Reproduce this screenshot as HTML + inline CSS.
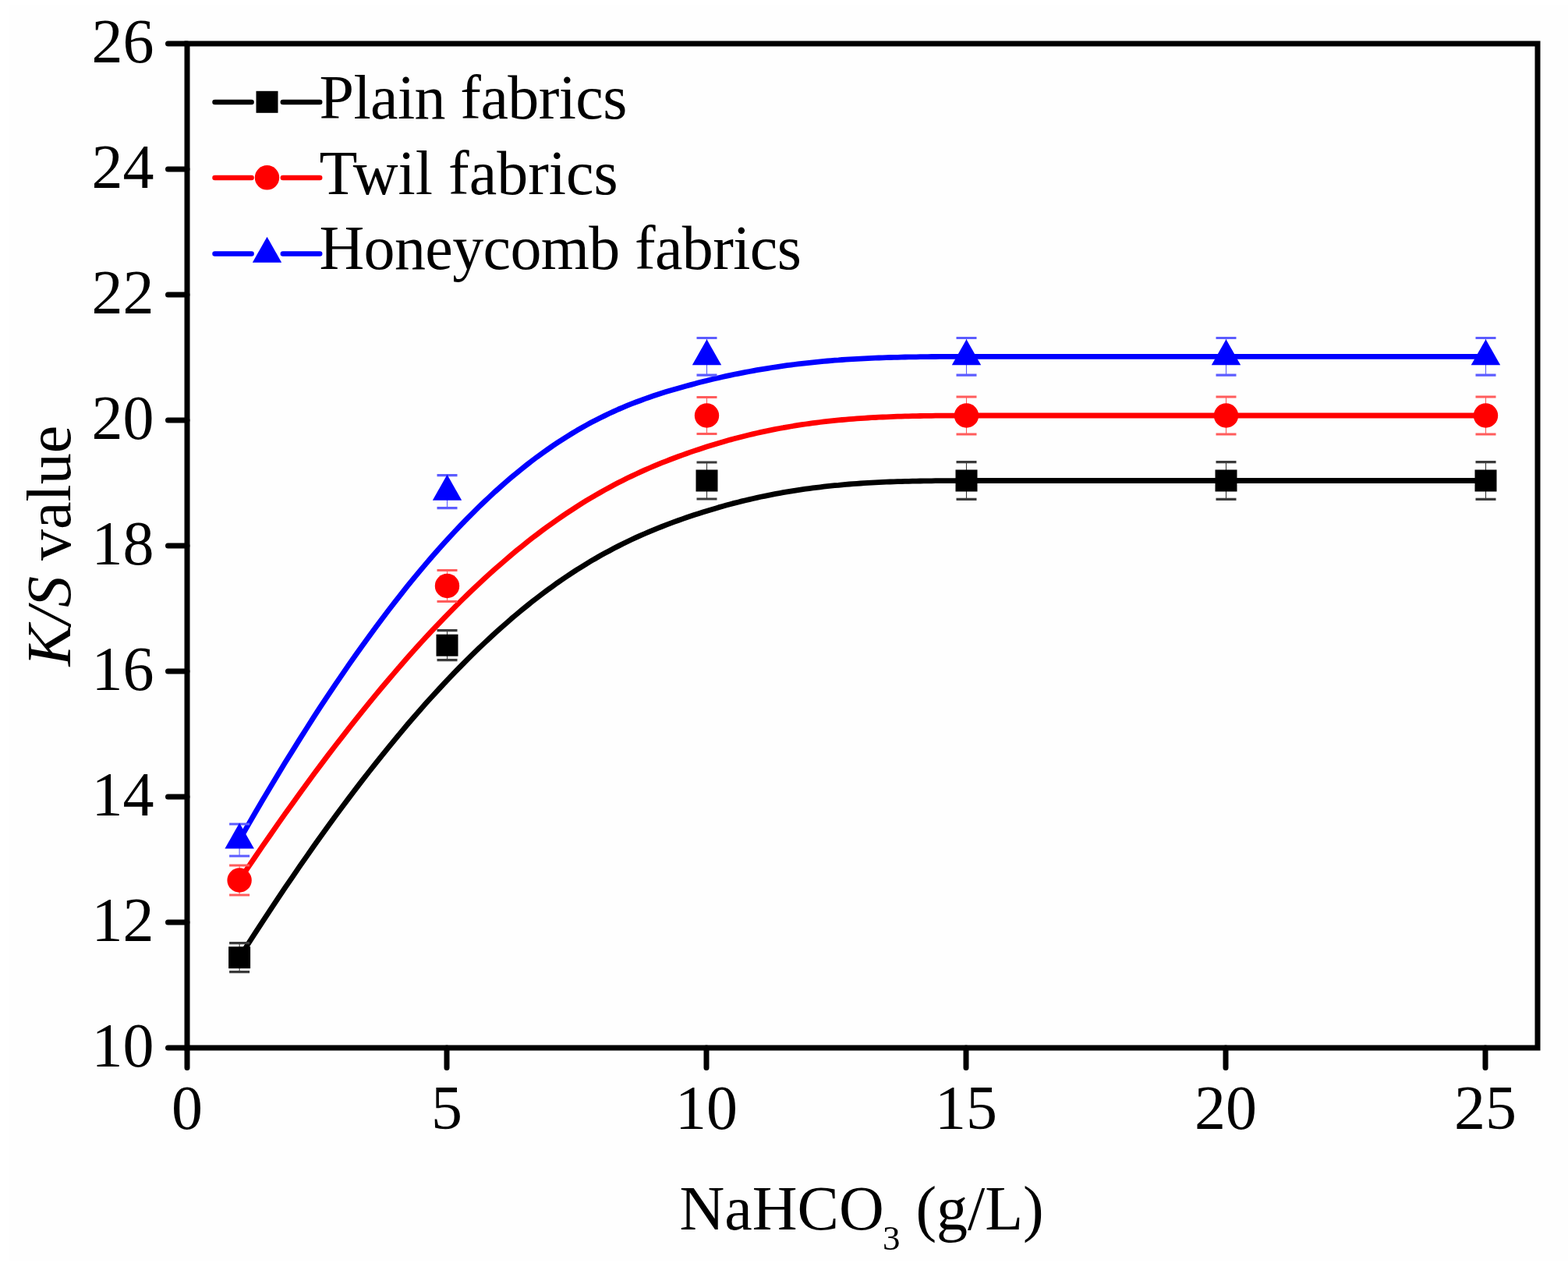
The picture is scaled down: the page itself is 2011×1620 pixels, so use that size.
<!DOCTYPE html>
<html><head><meta charset="utf-8"><title>K/S value vs NaHCO3</title>
<style>
html,body{margin:0;padding:0;background:#fefefe;}
svg{display:block;}
text{font-family:"Liberation Serif","Times New Roman",serif;font-size:80px;fill:#000;}
</style></head><body>
<svg width="2011" height="1620" viewBox="0 0 2011 1620">
<rect x="0" y="0" width="2011" height="1620" fill="#fefefe"/>
<rect x="0" y="0" width="12" height="1620" fill="#ffffff"/>
<rect x="0" y="0" width="2011" height="6" fill="#ffffff"/>
<rect x="0" y="1618" width="2011" height="2" fill="#ffffff"/>
<rect x="240.0" y="56" width="1732.0" height="1288" fill="none" stroke="#000" stroke-width="7"/>
<path d="M215.5,1344.0 H240.0 M215.5,1183.0 H240.0 M215.5,1022.0 H240.0 M215.5,861.0 H240.0 M215.5,700.0 H240.0 M215.5,539.0 H240.0 M215.5,378.0 H240.0 M215.5,217.0 H240.0 M215.5,56.0 H240.0 M240.0,1344 V1369.5 M573.0,1344 V1369.5 M906.0,1344 V1369.5 M1239.0,1344 V1369.5 M1572.0,1344 V1369.5 M1905.0,1344 V1369.5" stroke="#000" stroke-width="7" stroke-linecap="round" fill="none"/>
<text x="197.5" y="1367.6" text-anchor="end">10</text><text x="197.5" y="1206.6" text-anchor="end">12</text><text x="197.5" y="1045.6" text-anchor="end">14</text><text x="197.5" y="884.6" text-anchor="end">16</text><text x="197.5" y="723.6" text-anchor="end">18</text><text x="197.5" y="562.6" text-anchor="end">20</text><text x="197.5" y="401.6" text-anchor="end">22</text><text x="197.5" y="240.6" text-anchor="end">24</text><text x="197.5" y="79.6" text-anchor="end">26</text><text x="240.0" y="1448" text-anchor="middle">0</text><text x="573.0" y="1448" text-anchor="middle">5</text><text x="906.0" y="1448" text-anchor="middle">10</text><text x="1239.0" y="1448" text-anchor="middle">15</text><text x="1572.0" y="1448" text-anchor="middle">20</text><text x="1905.0" y="1448" text-anchor="middle">25</text>
<text x="871.5" y="1576.5">NaHCO<tspan font-size="45" dx="-1.8" dy="26">3</tspan><tspan dy="-26"> (g/L)</tspan></text>
<text transform="translate(89.6,854.5) rotate(-90)" x="0" y="0"><tspan font-style="italic">K/S</tspan> value</text>
<path d="M307.1,1228.2 L317.1,1212.5 L327.0,1197.2 L336.8,1182.1 L346.5,1167.4 L356.1,1152.9 L365.6,1138.7 L375.1,1124.8 L384.4,1111.2 L393.7,1097.9 L402.8,1084.8 L411.9,1072.0 L420.9,1059.5 L429.8,1047.3 L438.7,1035.3 L447.4,1023.6 L456.1,1012.1 L464.7,1000.9 L473.2,990.0 L481.6,979.3 L490.0,968.8 L498.3,958.6 L506.5,948.6 L514.6,938.8 L522.6,929.3 L530.6,920.0 L538.5,911.0 L546.3,902.1 L554.1,893.5 L561.8,885.1 L569.4,876.9 L577.0,868.9 L584.4,861.1 L591.9,853.5 L599.2,846.1 L606.5,838.9 L613.7,831.9 L620.9,825.1 L628.0,818.5 L635.0,812.0 L642.0,805.7 L648.9,799.7 L655.7,793.7 L662.5,788.0 L669.2,782.4 L675.9,777.0 L682.5,771.7 L689.1,766.6 L695.6,761.6 L702.1,756.8 L708.5,752.2 L714.8,747.6 L721.1,743.3 L727.4,739.0 L733.6,734.9 L739.7,730.9 L745.9,727.1 L751.9,723.3 L757.9,719.7 L763.9,716.2 L769.8,712.8 L775.7,709.6 L781.6,706.4 L787.4,703.3 L793.1,700.4 L798.8,697.5 L804.5,694.7 L810.2,692.0 L815.8,689.4 L821.4,686.9 L826.9,684.5 L832.4,682.1 L837.9,679.8 L843.3,677.6 L848.7,675.5 L854.1,673.4 L859.4,671.4 L864.7,669.4 L870.0,667.5 L875.3,665.6 L880.5,663.8 L885.7,662.1 L890.9,660.3 L896.0,658.7 L901.2,657.0 L906.3,655.4 L911.3,653.9 L916.4,652.4 L921.4,650.9 L926.5,649.5 L931.5,648.1 L936.4,646.7 L941.4,645.4 L946.3,644.2 L951.3,642.9 L956.2,641.7 L961.1,640.6 L965.9,639.5 L970.8,638.4 L975.7,637.3 L980.5,636.3 L985.3,635.3 L990.1,634.4 L994.9,633.4 L999.7,632.6 L1004.5,631.7 L1009.2,630.9 L1014.0,630.1 L1018.8,629.3 L1023.5,628.6 L1028.2,627.9 L1033.0,627.2 L1037.7,626.6 L1042.4,625.9 L1047.1,625.3 L1051.8,624.8 L1056.5,624.2 L1061.2,623.7 L1065.9,623.2 L1070.6,622.7 L1075.4,622.3 L1080.1,621.8 L1084.8,621.4 L1089.5,621.0 L1094.2,620.7 L1098.9,620.3 L1103.6,620.0 L1108.3,619.7 L1113.0,619.4 L1117.8,619.1 L1122.5,618.9 L1127.2,618.7 L1132.0,618.4 L1136.8,618.2 L1141.5,618.0 L1146.3,617.9 L1151.1,617.7 L1155.9,617.6 L1160.7,617.4 L1165.5,617.3 L1170.3,617.2 L1175.2,617.1 L1180.1,617.0 L1184.9,616.9 L1189.8,616.8 L1194.7,616.8 L1199.7,616.7 L1204.6,616.7 L1209.6,616.6 L1214.5,616.6 L1219.5,616.6 L1224.6,616.6 L1229.6,616.5 L1234.7,616.5 L1239.7,616.5 L1244.8,616.5 L1250.0,616.5 L1255.1,616.5 L1260.3,616.5 L1265.5,616.5 L1270.7,616.5 L1276.0,616.5 L1281.3,616.5 L1286.6,616.5 L1291.9,616.5 L1297.3,616.5 L1302.7,616.5 L1308.2,616.5 L1313.7,616.5 L1319.2,616.5 L1324.8,616.5 L1330.4,616.5 L1336.1,616.5 L1341.8,616.5 L1347.6,616.5 L1353.4,616.5 L1359.2,616.5 L1365.2,616.5 L1371.1,616.5 L1377.2,616.5 L1383.3,616.5 L1389.4,616.5 L1395.6,616.5 L1401.9,616.5 L1408.2,616.5 L1414.6,616.5 L1421.1,616.5 L1427.7,616.5 L1434.3,616.5 L1441.0,616.5 L1447.7,616.5 L1454.6,616.5 L1461.5,616.5 L1468.5,616.5 L1475.6,616.5 L1482.7,616.5 L1490.0,616.5 L1497.3,616.5 L1504.8,616.5 L1512.3,616.5 L1519.9,616.5 L1527.6,616.5 L1535.4,616.5 L1543.3,616.5 L1551.3,616.5 L1559.3,616.5 L1567.5,616.5 L1575.8,616.5 L1584.2,616.5 L1592.7,616.5 L1601.3,616.5 L1610.1,616.5 L1618.9,616.5 L1627.8,616.5 L1636.9,616.5 L1646.1,616.5 L1655.4,616.5 L1664.8,616.5 L1674.3,616.5 L1684.0,616.5 L1693.8,616.5 L1703.7,616.5 L1713.7,616.5 L1723.9,616.5 L1734.2,616.5 L1744.6,616.5 L1755.2,616.5 L1765.9,616.5 L1776.7,616.5 L1787.7,616.5 L1798.8,616.5 L1810.1,616.5 L1821.5,616.5 L1833.0,616.5 L1844.7,616.5 L1856.6,616.5 L1868.6,616.5 L1880.7,616.5 L1893.0,616.5 L1905.5,616.5" fill="none" stroke="#000000" stroke-width="6.8" stroke-linejoin="round"/><path d="M307.1,1129.0 L317.1,1114.1 L327.0,1099.5 L336.8,1085.2 L346.5,1071.2 L356.1,1057.4 L365.6,1043.9 L375.1,1030.7 L384.4,1017.7 L393.7,1005.0 L402.8,992.6 L411.9,980.4 L420.9,968.4 L429.8,956.7 L438.7,945.3 L447.4,934.1 L456.1,923.1 L464.7,912.3 L473.2,901.8 L481.6,891.6 L490.0,881.5 L498.3,871.7 L506.5,862.1 L514.6,852.7 L522.6,843.5 L530.6,834.6 L538.5,825.8 L546.3,817.3 L554.1,808.9 L561.8,800.8 L569.4,792.9 L577.0,785.1 L584.4,777.6 L591.9,770.2 L599.2,763.0 L606.5,756.0 L613.7,749.2 L620.9,742.6 L628.0,736.1 L635.0,729.8 L642.0,723.7 L648.9,717.7 L655.7,711.9 L662.5,706.2 L669.2,700.8 L675.9,695.4 L682.5,690.2 L689.1,685.2 L695.6,680.3 L702.1,675.5 L708.5,670.9 L714.8,666.4 L721.1,662.1 L727.4,657.9 L733.6,653.8 L739.7,649.8 L745.9,645.9 L751.9,642.2 L757.9,638.6 L763.9,635.1 L769.8,631.7 L775.7,628.4 L781.6,625.2 L787.4,622.1 L793.1,619.1 L798.8,616.2 L804.5,613.3 L810.2,610.6 L815.8,608.0 L821.4,605.4 L826.9,602.9 L832.4,600.5 L837.9,598.2 L843.3,595.9 L848.7,593.7 L854.1,591.6 L859.4,589.5 L864.7,587.5 L870.0,585.5 L875.3,583.6 L880.5,581.7 L885.7,579.9 L890.9,578.1 L896.0,576.4 L901.2,574.7 L906.3,573.1 L911.3,571.5 L916.4,569.9 L921.4,568.4 L926.5,566.9 L931.5,565.5 L936.4,564.1 L941.4,562.8 L946.3,561.5 L951.3,560.2 L956.2,559.0 L961.1,557.8 L965.9,556.6 L970.8,555.5 L975.7,554.4 L980.5,553.4 L985.3,552.4 L990.1,551.4 L994.9,550.4 L999.7,549.5 L1004.5,548.7 L1009.2,547.8 L1014.0,547.0 L1018.8,546.2 L1023.5,545.4 L1028.2,544.7 L1033.0,544.0 L1037.7,543.3 L1042.4,542.7 L1047.1,542.1 L1051.8,541.5 L1056.5,540.9 L1061.2,540.4 L1065.9,539.9 L1070.6,539.4 L1075.4,538.9 L1080.1,538.5 L1084.8,538.1 L1089.5,537.7 L1094.2,537.3 L1098.9,536.9 L1103.6,536.6 L1108.3,536.3 L1113.0,536.0 L1117.8,535.7 L1122.5,535.5 L1127.2,535.2 L1132.0,535.0 L1136.8,534.8 L1141.5,534.6 L1146.3,534.4 L1151.1,534.2 L1155.9,534.1 L1160.7,533.9 L1165.5,533.8 L1170.3,533.7 L1175.2,533.6 L1180.1,533.5 L1184.9,533.4 L1189.8,533.4 L1194.7,533.3 L1199.7,533.2 L1204.6,533.2 L1209.6,533.1 L1214.5,533.1 L1219.5,533.1 L1224.6,533.1 L1229.6,533.0 L1234.7,533.0 L1239.7,533.0 L1244.8,533.0 L1250.0,533.0 L1255.1,533.0 L1260.3,533.0 L1265.5,533.0 L1270.7,533.0 L1276.0,533.0 L1281.3,533.0 L1286.6,533.0 L1291.9,533.0 L1297.3,533.0 L1302.7,533.0 L1308.2,533.0 L1313.7,533.0 L1319.2,533.0 L1324.8,533.0 L1330.4,533.0 L1336.1,533.0 L1341.8,533.0 L1347.6,533.0 L1353.4,533.0 L1359.2,533.0 L1365.2,533.0 L1371.1,533.0 L1377.2,533.0 L1383.3,533.0 L1389.4,533.0 L1395.6,533.0 L1401.9,533.0 L1408.2,533.0 L1414.6,533.0 L1421.1,533.0 L1427.7,533.0 L1434.3,533.0 L1441.0,533.0 L1447.7,533.0 L1454.6,533.0 L1461.5,533.0 L1468.5,533.0 L1475.6,533.0 L1482.7,533.0 L1490.0,533.0 L1497.3,533.0 L1504.8,533.0 L1512.3,533.0 L1519.9,533.0 L1527.6,533.0 L1535.4,533.0 L1543.3,533.0 L1551.3,533.0 L1559.3,533.0 L1567.5,533.0 L1575.8,533.0 L1584.2,533.0 L1592.7,533.0 L1601.3,533.0 L1610.1,533.0 L1618.9,533.0 L1627.8,533.0 L1636.9,533.0 L1646.1,533.0 L1655.4,533.0 L1664.8,533.0 L1674.3,533.0 L1684.0,533.0 L1693.8,533.0 L1703.7,533.0 L1713.7,533.0 L1723.9,533.0 L1734.2,533.0 L1744.6,533.0 L1755.2,533.0 L1765.9,533.0 L1776.7,533.0 L1787.7,533.0 L1798.8,533.0 L1810.1,533.0 L1821.5,533.0 L1833.0,533.0 L1844.7,533.0 L1856.6,533.0 L1868.6,533.0 L1880.7,533.0 L1893.0,533.0 L1905.5,533.0" fill="none" stroke="#ff0000" stroke-width="6.8" stroke-linejoin="round"/><path d="M307.1,1077.5 L317.1,1060.1 L327.0,1043.0 L336.8,1026.3 L346.5,1010.0 L356.1,994.0 L365.6,978.3 L375.1,963.1 L384.4,948.1 L393.7,933.5 L402.8,919.2 L411.9,905.2 L420.9,891.6 L429.8,878.3 L438.7,865.3 L447.4,852.6 L456.1,840.2 L464.7,828.2 L473.2,816.4 L481.6,804.9 L490.0,793.7 L498.3,782.8 L506.5,772.2 L514.6,761.8 L522.6,751.7 L530.6,741.9 L538.5,732.4 L546.3,723.1 L554.1,714.1 L561.8,705.3 L569.4,696.8 L577.0,688.5 L584.4,680.5 L591.9,672.7 L599.2,665.1 L606.5,657.8 L613.7,650.7 L620.9,643.8 L628.0,637.1 L635.0,630.6 L642.0,624.4 L648.9,618.3 L655.7,612.4 L662.5,606.8 L669.2,601.3 L675.9,596.0 L682.5,590.9 L689.1,585.9 L695.6,581.2 L702.1,576.6 L708.5,572.1 L714.8,567.9 L721.1,563.8 L727.4,559.8 L733.6,556.0 L739.7,552.3 L745.9,548.8 L751.9,545.4 L757.9,542.1 L763.9,539.0 L769.8,536.0 L775.7,533.1 L781.6,530.3 L787.4,527.6 L793.1,525.0 L798.8,522.6 L804.5,520.2 L810.2,517.9 L815.8,515.8 L821.4,513.7 L826.9,511.6 L832.4,509.7 L837.9,507.8 L843.3,506.0 L848.7,504.3 L854.1,502.6 L859.4,501.0 L864.7,499.4 L870.0,497.9 L875.3,496.4 L880.5,495.0 L885.7,493.6 L890.9,492.2 L896.0,490.8 L901.2,489.5 L906.3,488.3 L911.3,487.0 L916.4,485.8 L921.4,484.7 L926.5,483.5 L931.5,482.4 L936.4,481.4 L941.4,480.3 L946.3,479.3 L951.3,478.3 L956.2,477.4 L961.1,476.5 L965.9,475.6 L970.8,474.7 L975.7,473.9 L980.5,473.1 L985.3,472.3 L990.1,471.5 L994.9,470.8 L999.7,470.1 L1004.5,469.4 L1009.2,468.7 L1014.0,468.1 L1018.8,467.5 L1023.5,466.9 L1028.2,466.4 L1033.0,465.8 L1037.7,465.3 L1042.4,464.8 L1047.1,464.3 L1051.8,463.9 L1056.5,463.4 L1061.2,463.0 L1065.9,462.6 L1070.6,462.2 L1075.4,461.9 L1080.1,461.5 L1084.8,461.2 L1089.5,460.9 L1094.2,460.6 L1098.9,460.4 L1103.6,460.1 L1108.3,459.8 L1113.0,459.6 L1117.8,459.4 L1122.5,459.2 L1127.2,459.0 L1132.0,458.8 L1136.8,458.7 L1141.5,458.5 L1146.3,458.4 L1151.1,458.3 L1155.9,458.1 L1160.7,458.0 L1165.5,457.9 L1170.3,457.8 L1175.2,457.8 L1180.1,457.7 L1184.9,457.6 L1189.8,457.6 L1194.7,457.5 L1199.7,457.5 L1204.6,457.4 L1209.6,457.4 L1214.5,457.4 L1219.5,457.4 L1224.6,457.3 L1229.6,457.3 L1234.7,457.3 L1239.7,457.3 L1244.8,457.3 L1250.0,457.3 L1255.1,457.3 L1260.3,457.3 L1265.5,457.3 L1270.7,457.3 L1276.0,457.3 L1281.3,457.3 L1286.6,457.3 L1291.9,457.3 L1297.3,457.3 L1302.7,457.3 L1308.2,457.3 L1313.7,457.3 L1319.2,457.3 L1324.8,457.3 L1330.4,457.3 L1336.1,457.3 L1341.8,457.3 L1347.6,457.3 L1353.4,457.3 L1359.2,457.3 L1365.2,457.3 L1371.1,457.3 L1377.2,457.3 L1383.3,457.3 L1389.4,457.3 L1395.6,457.3 L1401.9,457.3 L1408.2,457.3 L1414.6,457.3 L1421.1,457.3 L1427.7,457.3 L1434.3,457.3 L1441.0,457.3 L1447.7,457.3 L1454.6,457.3 L1461.5,457.3 L1468.5,457.3 L1475.6,457.3 L1482.7,457.3 L1490.0,457.3 L1497.3,457.3 L1504.8,457.3 L1512.3,457.3 L1519.9,457.3 L1527.6,457.3 L1535.4,457.3 L1543.3,457.3 L1551.3,457.3 L1559.3,457.3 L1567.5,457.3 L1575.8,457.3 L1584.2,457.3 L1592.7,457.3 L1601.3,457.3 L1610.1,457.3 L1618.9,457.3 L1627.8,457.3 L1636.9,457.3 L1646.1,457.3 L1655.4,457.3 L1664.8,457.3 L1674.3,457.3 L1684.0,457.3 L1693.8,457.3 L1703.7,457.3 L1713.7,457.3 L1723.9,457.3 L1734.2,457.3 L1744.6,457.3 L1755.2,457.3 L1765.9,457.3 L1776.7,457.3 L1787.7,457.3 L1798.8,457.3 L1810.1,457.3 L1821.5,457.3 L1833.0,457.3 L1844.7,457.3 L1856.6,457.3 L1868.6,457.3 L1880.7,457.3 L1893.0,457.3 L1905.5,457.3" fill="none" stroke="#0000ff" stroke-width="6.8" stroke-linejoin="round"/><path d="M307.1,1209.7 V1246.7" stroke="#3a3a3a" stroke-width="1.1" fill="none"/><path d="M294.1,1209.7 H320.1 M294.1,1246.7 H320.1" stroke="#3a3a3a" stroke-width="3.2" fill="none"/><rect x="293.1" y="1214.2" width="28" height="28" fill="#000000"/><path d="M573.5,808.7 V846.7" stroke="#3a3a3a" stroke-width="1.1" fill="none"/><path d="M560.5,808.7 H586.5 M560.5,846.7 H586.5" stroke="#3a3a3a" stroke-width="3.2" fill="none"/><rect x="559.5" y="813.7" width="28" height="28" fill="#000000"/><path d="M906.5,593.0 V640.0" stroke="#3a3a3a" stroke-width="1.1" fill="none"/><path d="M893.5,593.0 H919.5 M893.5,640.0 H919.5" stroke="#3a3a3a" stroke-width="3.2" fill="none"/><rect x="892.5" y="602.5" width="28" height="28" fill="#000000"/><path d="M1239.5,592.7 V640.3" stroke="#3a3a3a" stroke-width="1.1" fill="none"/><path d="M1226.5,592.7 H1252.5 M1226.5,640.3 H1252.5" stroke="#3a3a3a" stroke-width="3.2" fill="none"/><rect x="1225.5" y="602.5" width="28" height="28" fill="#000000"/><path d="M1572.5,592.7 V640.3" stroke="#3a3a3a" stroke-width="1.1" fill="none"/><path d="M1559.5,592.7 H1585.5 M1559.5,640.3 H1585.5" stroke="#3a3a3a" stroke-width="3.2" fill="none"/><rect x="1558.5" y="602.5" width="28" height="28" fill="#000000"/><path d="M1905.5,592.7 V640.3" stroke="#3a3a3a" stroke-width="1.1" fill="none"/><path d="M1892.5,592.7 H1918.5 M1892.5,640.3 H1918.5" stroke="#3a3a3a" stroke-width="3.2" fill="none"/><rect x="1891.5" y="602.5" width="28" height="28" fill="#000000"/><path d="M307.1,1110.0 V1148.0" stroke="#ff5c5c" stroke-width="1.1" fill="none"/><path d="M294.1,1110.0 H320.1 M294.1,1148.0 H320.1" stroke="#ff5c5c" stroke-width="3.2" fill="none"/><circle cx="307.1" cy="1129.0" r="15.7" fill="#ff0000"/><path d="M573.5,731.5 V771.5" stroke="#ff5c5c" stroke-width="1.1" fill="none"/><path d="M560.5,731.5 H586.5 M560.5,771.5 H586.5" stroke="#ff5c5c" stroke-width="3.2" fill="none"/><circle cx="573.5" cy="751.5" r="15.7" fill="#ff0000"/><path d="M906.5,509.5 V556.5" stroke="#ff5c5c" stroke-width="1.1" fill="none"/><path d="M893.5,509.5 H919.5 M893.5,556.5 H919.5" stroke="#ff5c5c" stroke-width="3.2" fill="none"/><circle cx="906.5" cy="533.0" r="15.7" fill="#ff0000"/><path d="M1239.5,509.0 V557.0" stroke="#ff5c5c" stroke-width="1.1" fill="none"/><path d="M1226.5,509.0 H1252.5 M1226.5,557.0 H1252.5" stroke="#ff5c5c" stroke-width="3.2" fill="none"/><circle cx="1239.5" cy="533.0" r="15.7" fill="#ff0000"/><path d="M1572.5,509.0 V557.0" stroke="#ff5c5c" stroke-width="1.1" fill="none"/><path d="M1559.5,509.0 H1585.5 M1559.5,557.0 H1585.5" stroke="#ff5c5c" stroke-width="3.2" fill="none"/><circle cx="1572.5" cy="533.0" r="15.7" fill="#ff0000"/><path d="M1905.5,509.0 V557.0" stroke="#ff5c5c" stroke-width="1.1" fill="none"/><path d="M1892.5,509.0 H1918.5 M1892.5,557.0 H1918.5" stroke="#ff5c5c" stroke-width="3.2" fill="none"/><circle cx="1905.5" cy="533.0" r="15.7" fill="#ff0000"/><path d="M307.1,1057.0 V1098.0" stroke="#5c5cff" stroke-width="1.1" fill="none"/><path d="M294.1,1057.0 H320.1 M294.1,1098.0 H320.1" stroke="#5c5cff" stroke-width="3.2" fill="none"/><polygon points="307.1,1055.5 288.4,1088.5 325.9,1088.5" fill="#0000ff"/><path d="M573.5,609.7 V651.7" stroke="#5c5cff" stroke-width="1.1" fill="none"/><path d="M560.5,609.7 H586.5 M560.5,651.7 H586.5" stroke="#5c5cff" stroke-width="3.2" fill="none"/><polygon points="573.5,608.7 554.8,641.7 592.2,641.7" fill="#0000ff"/><path d="M906.5,433.5 V481.1" stroke="#5c5cff" stroke-width="1.1" fill="none"/><path d="M893.5,433.5 H919.5 M893.5,481.1 H919.5" stroke="#5c5cff" stroke-width="3.2" fill="none"/><polygon points="906.5,435.3 887.8,468.3 925.2,468.3" fill="#0000ff"/><path d="M1239.5,433.5 V481.1" stroke="#5c5cff" stroke-width="1.1" fill="none"/><path d="M1226.5,433.5 H1252.5 M1226.5,481.1 H1252.5" stroke="#5c5cff" stroke-width="3.2" fill="none"/><polygon points="1239.5,435.3 1220.8,468.3 1258.2,468.3" fill="#0000ff"/><path d="M1572.5,433.5 V481.1" stroke="#5c5cff" stroke-width="1.1" fill="none"/><path d="M1559.5,433.5 H1585.5 M1559.5,481.1 H1585.5" stroke="#5c5cff" stroke-width="3.2" fill="none"/><polygon points="1572.5,435.3 1553.8,468.3 1591.2,468.3" fill="#0000ff"/><path d="M1905.5,433.5 V481.1" stroke="#5c5cff" stroke-width="1.1" fill="none"/><path d="M1892.5,433.5 H1918.5 M1892.5,481.1 H1918.5" stroke="#5c5cff" stroke-width="3.2" fill="none"/><polygon points="1905.5,435.3 1886.7,468.3 1924.2,468.3" fill="#0000ff"/>
<path d="M275.5,131.1 H322.6 M362.8,131.1 H410.2" stroke="#000000" stroke-width="6.5" stroke-linecap="round" fill="none"/><rect x="328.5" y="116.8" width="28" height="28" fill="#000000"/><text x="409.5" y="151.5" letter-spacing="-0.6">Plain fabrics</text><path d="M275.5,228.0 H322.6 M362.8,228.0 H410.2" stroke="#ff0000" stroke-width="6.5" stroke-linecap="round" fill="none"/><circle cx="342.5" cy="227.8" r="15.7" fill="#ff0000"/><text x="409.5" y="248.5" letter-spacing="0">Twil fabrics</text><path d="M275.5,325.4 H322.6 M362.8,325.4 H410.2" stroke="#0000ff" stroke-width="6.5" stroke-linecap="round" fill="none"/><polygon points="342.5,303.8 323.8,336.8 361.2,336.8" fill="#0000ff"/><text x="409.5" y="344.5" letter-spacing="-0.65">Honeycomb fabrics</text>
</svg>
</body></html>
